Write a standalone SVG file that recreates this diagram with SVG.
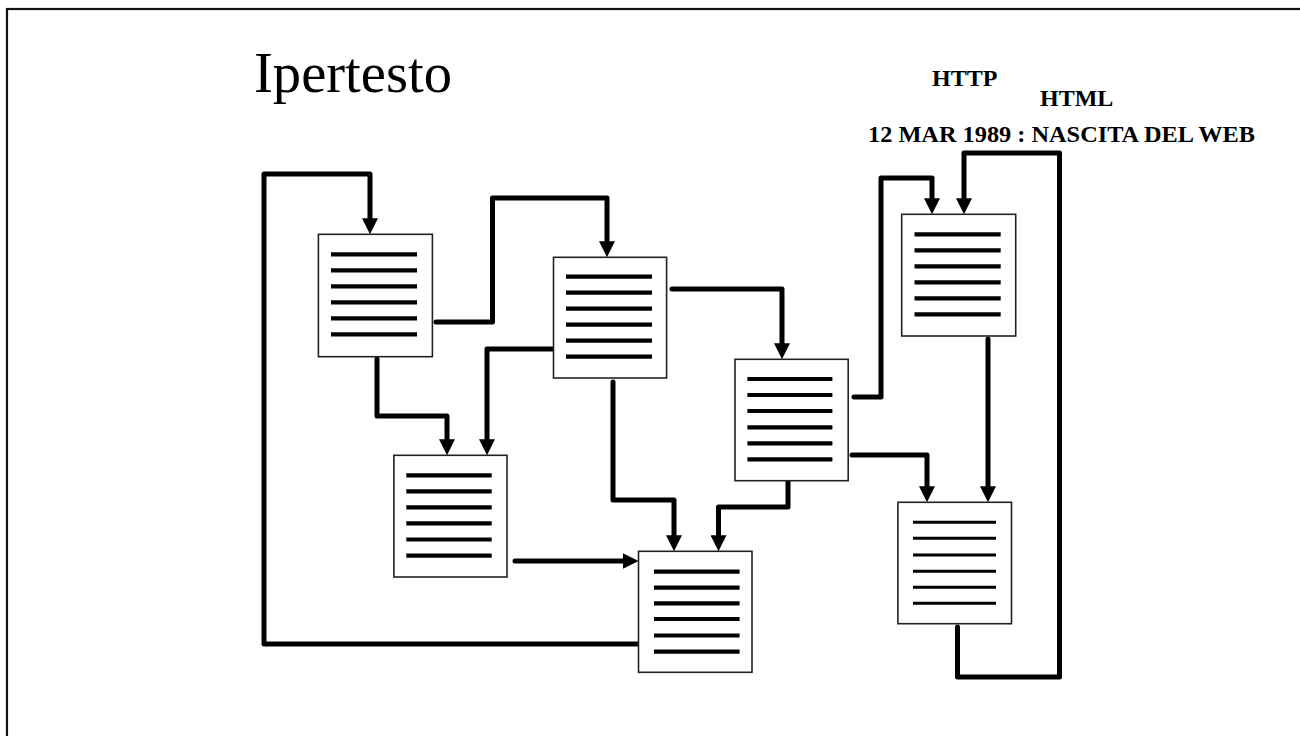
<svg xmlns="http://www.w3.org/2000/svg" width="1300" height="736" viewBox="0 0 1300 736">
<style>
.doc{fill:#fff;stroke:#222;stroke-width:1.6}
.txt{fill:none;stroke:#000;stroke-width:4.2;stroke-linecap:butt}
.txt2{fill:none;stroke:#000;stroke-width:3;stroke-linecap:butt}
.conn{fill:none;stroke:#000;stroke-width:5;stroke-linejoin:round;stroke-linecap:round;marker-end:url(#arr)}
.lbl{font-family:"Liberation Serif","Times New Roman",serif;font-weight:bold;font-size:24px;fill:#000}
</style>
<defs>
<marker id="arr" viewBox="0 0 16 16" markerUnits="userSpaceOnUse" markerWidth="16" markerHeight="16" refX="8" refY="8" orient="auto">
<path d="M0,0 L16,8 L0,16 z" fill="#000"/>
</marker>
</defs>
<rect x="7" y="9" width="1310" height="740" fill="#fff" stroke="#111" stroke-width="2.2"/>
<text x="254" y="92" font-family="Liberation Serif,Times New Roman,serif" font-size="56" textLength="198" lengthAdjust="spacingAndGlyphs">Ipertesto</text>
<text class="lbl" x="932" y="86">HTTP</text>
<text class="lbl" x="1040" y="106">HTML</text>
<text class="lbl" x="868" y="142" textLength="387" lengthAdjust="spacingAndGlyphs">12 MAR 1989 : NASCITA DEL WEB</text>
<g id="connectors">
<path class="conn" d="M638,644 L264,644 L264,174 L370,174 L370,226.3"/>
<path class="conn" d="M436,322 L492.5,322 L492.5,198 L607,198 L607,249.3"/>
<path class="conn" d="M377,359 L377,416 L447,416 L447,447.3"/>
<path class="conn" d="M553,349 L487,349 L487,447.3"/>
<path class="conn" d="M613,382 L613,500 L674,500 L674,543.3"/>
<path class="conn" d="M788,481 L788,507 L718.5,507 L718.5,543.3"/>
<path class="conn" d="M515,561 L630.5,561"/>
<path class="conn" d="M672,289 L782,289 L782,351.3"/>
<path class="conn" d="M854,397 L881,397 L881,178 L932,178 L932,206.3"/>
<path class="conn" d="M957.5,627 L957.5,677 L1059.5,677 L1059.5,153 L964,153 L964,206.3"/>
<path class="conn" d="M988,339 L988,494.3"/>
<path class="conn" d="M852,455 L927,455 L927,494.3"/>
</g>
<g id="doc-a">
<rect class="doc" x="318.4" y="234.3" width="114" height="122.4"/>
<path class="txt" d="M331,254.3 H417 M331,270.3 H417 M331,286.3 H417 M331,302.3 H417 M331,318.3 H417 M331,334.3 H417"/>
</g>
<g id="doc-b">
<rect class="doc" x="553.5" y="257.3" width="113.1" height="120.7"/>
<path class="txt" d="M566,276.7 H652 M566,292.7 H652 M566,308.7 H652 M566,324.7 H652 M566,340.7 H652 M566,356.7 H652"/>
</g>
<g id="doc-c">
<rect class="doc" x="735" y="359.3" width="113.2" height="121.4"/>
<path class="txt" d="M747.4,379 H832.4 M747.4,395 H832.4 M747.4,411 H832.4 M747.4,427.3 H832.4 M747.4,443.3 H832.4 M747.4,459.3 H832.4"/>
</g>
<g id="doc-d">
<rect class="doc" x="901.7" y="214.3" width="114" height="121.7"/>
<path class="txt" d="M914.5,234.3 H1000.7 M914.5,250.3 H1000.7 M914.5,266.3 H1000.7 M914.5,282.3 H1000.7 M914.5,298.3 H1000.7 M914.5,314.3 H1000.7"/>
</g>
<g id="doc-e">
<rect class="doc" x="393.9" y="455.3" width="113.1" height="121.7"/>
<path class="txt" d="M406.3,475.3 H491.7 M406.3,491.3 H491.7 M406.3,507.3 H491.7 M406.3,523.3 H491.7 M406.3,539.5 H491.7 M406.3,555.7 H491.7"/>
</g>
<g id="doc-f">
<rect class="doc" x="638.5" y="551.3" width="113.5" height="121"/>
<path class="txt" d="M654,571.7 H739.6 M654,587.7 H739.6 M654,603.3 H739.6 M654,619 H739.6 M654,635.5 H739.6 M654,651.7 H739.6"/>
</g>
<g id="doc-g">
<rect class="doc" x="897.9" y="502.3" width="113.6" height="121.4"/>
<path class="txt2" d="M913,522.3 H996 M913,538.3 H996 M913,555 H996 M913,571.3 H996 M913,587.3 H996 M913,603.3 H996"/>
</g>
</svg>
